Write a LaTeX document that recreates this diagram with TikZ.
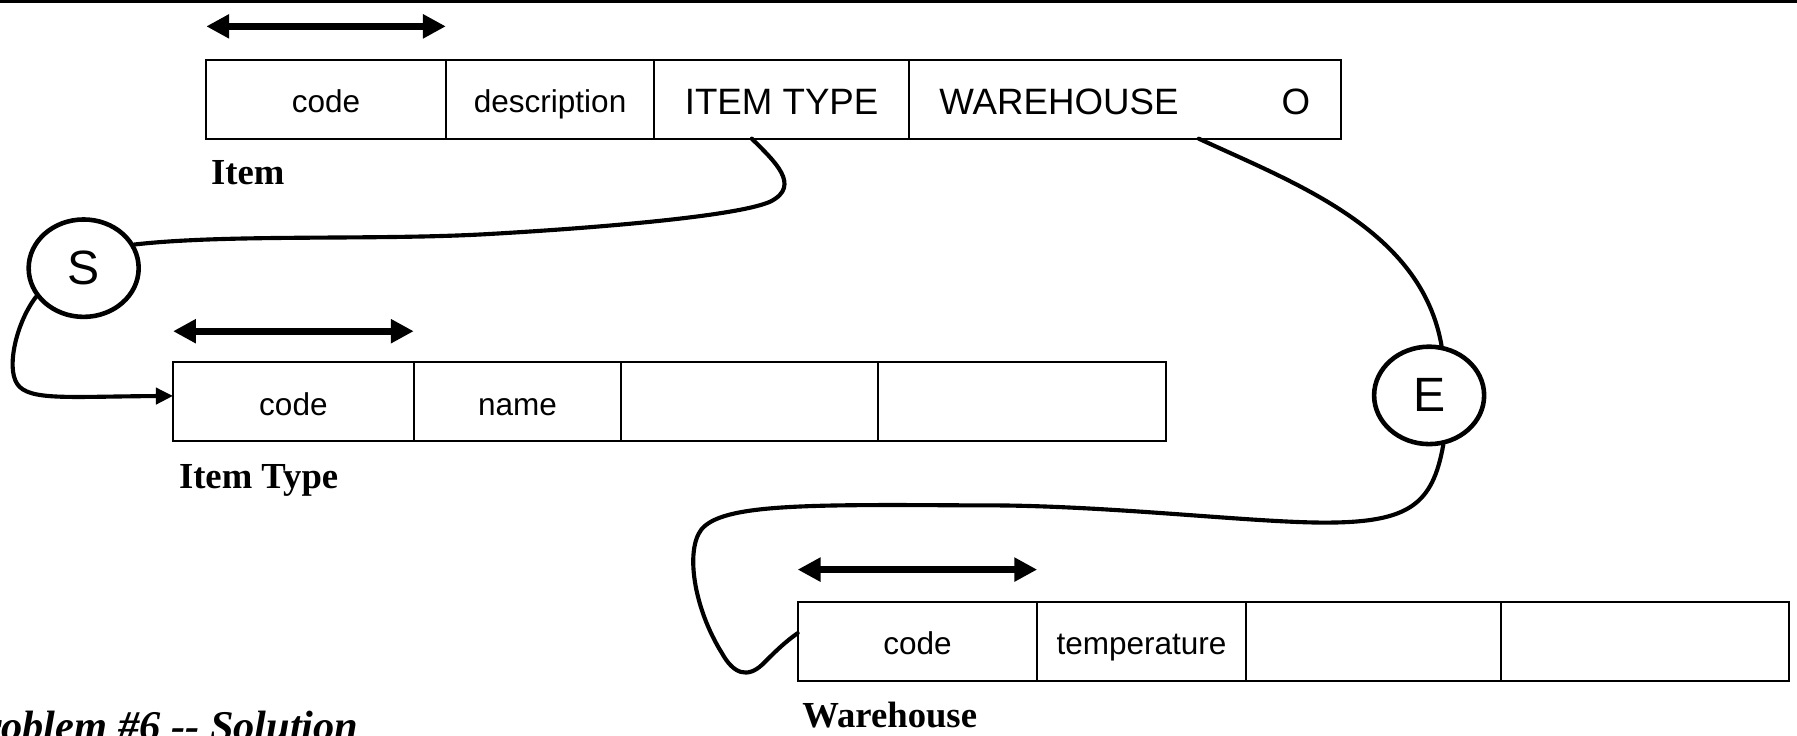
\documentclass[tikz,border=0pt]{standalone}
\usepackage{fontspec}
\setmainfont{Liberation Serif}
\setsansfont{Liberation Sans}
\usepackage{tikz}
\usetikzlibrary{arrows.meta}
\usetikzlibrary{positioning}
\usetikzlibrary{shapes.geometric}

\begin{document}
\begin{tikzpicture}[x=1pt,y=-1pt,
        celda/.style={draw, line width=1.8pt, minimum height=69pt, inner sep=0pt, outer sep=0pt,
            text height=24pt, text depth=0pt, font=\sffamily\fontsize{27.5}{33}\selectfont},
        grande/.style={text height=28pt, text depth=2pt, font=\sffamily\fontsize{32}{38}\selectfont},
        relacion/.style={ellipse, draw, line width=4pt, minimum width=96pt, minimum height=85pt,
            inner sep=0pt, font=\sffamily\fontsize{42}{50}\selectfont},
        titulo/.style={anchor=base west, inner sep=0pt, font=\bfseries\fontsize{32}{38}\selectfont},
        clave/.style={line width=6pt, {Triangle[length=20pt,width=20pt]}-{Triangle[length=20pt,width=20pt]}},
        enlace/.style={line width=3.6pt, line cap=round}]
        \useasboundingbox (0,0) rectangle (1568,642);

        % Barra superior
        \fill (0,0) rectangle (1568,2.5);

        % Tabla Item
        \node[celda, minimum width=209pt, anchor=north west] (i1) at (180,52) {code};
        \node[celda, minimum width=182pt, right=0pt of i1] (i2) {description};
        \node[celda, grande, minimum width=222pt, right=0pt of i2] (i3) {ITEM TYPE};
        \node[celda, grande, minimum width=377pt, right=0pt of i3] (i4) {WAREHOUSE\hspace{90pt}O};

        % Tabla Item Type
        \node[celda, minimum width=210pt, anchor=north west] (t1) at (151,316) {code};
        \node[celda, minimum width=181pt, right=0pt of t1] (t2) {name};
        \node[celda, minimum width=224pt, right=0pt of t2] (t3) {};
        \node[celda, minimum width=251pt, right=0pt of t3] (t4) {};

        % Tabla Warehouse
        \node[celda, minimum width=209pt, anchor=north west] (w1) at (696,525) {code};
        \node[celda, minimum width=182pt, right=0pt of w1] (w2) {temperature};
        \node[celda, minimum width=223pt, right=0pt of w2] (w3) {};
        \node[celda, minimum width=251pt, right=0pt of w3] (w4) {};

        % Claves
        \draw[clave] ([yshift=29pt]i1.north west) -- ([yshift=29pt]i1.north east);
        \draw[clave] ([yshift=27pt]t1.north west) -- ([yshift=27pt]t1.north east);
        \draw[clave] ([yshift=28pt]w1.north west) -- ([yshift=28pt]w1.north east);

        % Relaciones
        \node[relacion] (s) at (73,234) {S};
        \node[relacion] (e) at (1247,345) {E};

        % Conexiones
        \draw[enlace] ([xshift=-26pt]i3.south) .. controls (675,140) and (700,162) .. (672,176)
            .. controls (640,190) and (500,200) .. (430,204)
            .. controls (330,210) and (200,204) .. (s.25);
        \draw[enlace, -{Triangle[length=15pt,width=14pt]}] (s.211) .. controls (15,280) and (5,320) .. (15,335)
            .. controls (25,350) and (60,346) .. ([yshift=5pt]t1.west);

        \draw[enlace] ([xshift=64.5pt]i4.south) .. controls (1130,160) and (1240,200) .. (e.76);
        \draw[enlace] (e.286) .. controls (1250,440) and (1230,456) .. (1156,456)
            .. controls (1090,456) and (960,440) .. (850,441)
            .. controls (700,440) and (630,440) .. (612,462)
            .. controls (598,480) and (605,530) .. (630,570)
            .. controls (640,588) and (652,592) .. (665,580)
            .. controls (675,570) and (685,560) .. ([yshift=7pt]w1.west);

        % Etiquetas
        \node[titulo] (li) at (184,161) {Item};
        \node[titulo] (lt) at (156,426) {Item Type};
        \node[titulo] (lw) at (700,635) {Warehouse};
        \node[anchor=base east, inner sep=0pt, font=\bfseries\itshape\fontsize{37}{44}\selectfont]
            (prob) at (313,646) {Problem \#6 {-}{-} Solution};
    \end{tikzpicture}
\end{document}
